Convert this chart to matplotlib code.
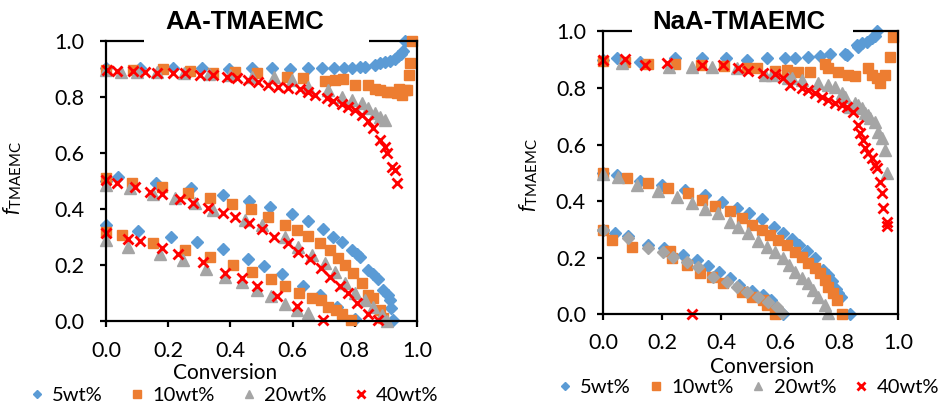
import matplotlib
matplotlib.use("Agg")
import matplotlib.pyplot as plt
from matplotlib.patches import Rectangle

plt.rcParams['font.family'] = ['Lato', 'DejaVu Sans']
plt.rcParams['mathtext.fontset'] = 'custom'
plt.rcParams['mathtext.rm'] = 'Lato'
plt.rcParams['mathtext.it'] = 'Lato:italic'

BLUE = '#5B9BD5'
ORANGE = '#ED7D31'
GRAY = '#A5A5A5'
RED = '#FF0000'

series_labels = ['5wt%', '10wt%', '20wt%', '40wt%']
ticks = [0.0, 0.2, 0.4, 0.6, 0.8, 1.0]

# ---- AA-TMAEMC (three starting feeds per series: 0.9, 0.5, 0.3)
aa_5wt_x = [0.0, 0.109, 0.215, 0.308, 0.397, 0.469, 0.533, 0.592, 0.648, 0.694, 0.732, 0.764, 0.791, 0.818,
            0.834, 0.866, 0.881, 0.897, 0.913, 0.929, 0.940, 0.950, 0.956, 0.962,
            0.0, 0.040, 0.161, 0.272, 0.377, 0.460, 0.527, 0.597, 0.648, 0.697, 0.731, 0.758, 0.790, 0.806,
            0.817, 0.843, 0.860, 0.874, 0.892, 0.908, 0.913, 0.916, 0.922,
            0.0, 0.104, 0.208, 0.292, 0.377, 0.456, 0.509, 0.565, 0.634, 0.688, 0.742, 0.80]
aa_5wt_y = [0.903, 0.903, 0.903, 0.903, 0.901, 0.903, 0.903, 0.901, 0.903, 0.905, 0.905, 0.905, 0.905, 0.908,
            0.908, 0.915, 0.920, 0.924, 0.930, 0.936, 0.945, 0.953, 0.963, 1.0,
            0.50, 0.513, 0.494, 0.474, 0.450, 0.430, 0.406, 0.381, 0.357, 0.329, 0.301, 0.283, 0.254, 0.238,
            0.227, 0.182, 0.168, 0.151, 0.111, 0.093, 0.075, 0.048, 0.004,
            0.343, 0.321, 0.299, 0.281, 0.256, 0.221, 0.196, 0.168, 0.125, 0.093, 0.051, 0.006]

aa_10wt_x = [0.0, 0.088, 0.184, 0.270, 0.345, 0.415, 0.484, 0.581, 0.634, 0.704, 0.736, 0.763, 0.801, 0.844,
             0.865, 0.881, 0.903, 0.913, 0.935, 0.941, 0.952, 0.961, 0.968, 0.973, 0.976, 0.984,
             0.0, 0.083, 0.179, 0.265, 0.334, 0.404, 0.466, 0.520, 0.576, 0.613, 0.651, 0.688, 0.720, 0.745,
             0.768, 0.795, 0.822, 0.843, 0.860, 0.881, 0.892,
             0.0, 0.050, 0.152, 0.254, 0.334, 0.409, 0.470, 0.531, 0.576, 0.621, 0.661, 0.690, 0.715, 0.740,
             0.758, 0.788]
aa_10wt_y = [0.896, 0.896, 0.899, 0.894, 0.887, 0.891, 0.885, 0.873, 0.867, 0.858, 0.861, 0.863, 0.843, 0.844,
             0.830, 0.825, 0.817, 0.819, 0.813, 0.828, 0.808, 0.825, 0.826, 0.879, 0.921, 1.0,
             0.510, 0.494, 0.477, 0.458, 0.438, 0.418, 0.399, 0.370, 0.343, 0.325, 0.304, 0.277, 0.254, 0.224,
             0.200, 0.170, 0.135, 0.093, 0.083, 0.039, 0.010,
             0.319, 0.307, 0.280, 0.254, 0.230, 0.200, 0.174, 0.149, 0.125, 0.101, 0.081, 0.075, 0.051, 0.040,
             0.025, 0.004]

aa_20wt_x = [0.0, 0.047, 0.10, 0.163, 0.25, 0.33, 0.40, 0.47, 0.539, 0.597, 0.651, 0.715, 0.758, 0.790,
             0.822, 0.843, 0.865, 0.881, 0.897,
             0.0, 0.077, 0.15, 0.222, 0.286, 0.345, 0.447, 0.501, 0.576, 0.618, 0.661, 0.704, 0.736, 0.768,
             0.801, 0.833, 0.860, 0.886, 0.903,
             0.0, 0.072, 0.174, 0.247, 0.322, 0.383, 0.437, 0.487, 0.530, 0.576, 0.614, 0.651]
aa_20wt_y = [0.895, 0.891, 0.890, 0.891, 0.886, 0.882, 0.877, 0.870, 0.871, 0.861, 0.837, 0.825, 0.801, 0.789,
             0.777, 0.760, 0.742, 0.727, 0.718,
             0.486, 0.474, 0.455, 0.438, 0.420, 0.396, 0.361, 0.343, 0.301, 0.265, 0.236, 0.206, 0.176, 0.135,
             0.099, 0.075, 0.051, 0.021, 0.0,
             0.289, 0.265, 0.241, 0.217, 0.184, 0.158, 0.140, 0.112, 0.088, 0.062, 0.041, 0.030]

aa_40wt_x = [0.002, 0.034, 0.088, 0.125, 0.163, 0.216, 0.254, 0.302, 0.345, 0.388, 0.420, 0.458, 0.490, 0.522,
             0.554, 0.586, 0.624, 0.651, 0.672, 0.710, 0.731, 0.758, 0.779, 0.801, 0.822, 0.843, 0.860, 0.881,
             0.897, 0.903, 0.919, 0.929, 0.935,
             0.0, 0.034, 0.093, 0.141, 0.179, 0.238, 0.281, 0.329, 0.377, 0.415, 0.460, 0.501, 0.540, 0.584,
             0.618, 0.656, 0.691, 0.720, 0.752, 0.777, 0.806, 0.841, 0.876,
             0.0, 0.072, 0.109, 0.179, 0.233, 0.313, 0.383, 0.436, 0.484, 0.549, 0.613, 0.699]
aa_40wt_y = [0.896, 0.894, 0.894, 0.891, 0.887, 0.887, 0.885, 0.879, 0.879, 0.873, 0.867, 0.861, 0.855, 0.843,
             0.834, 0.831, 0.827, 0.819, 0.807, 0.795, 0.787, 0.775, 0.763, 0.754, 0.736, 0.715, 0.688, 0.646,
             0.623, 0.599, 0.551, 0.539, 0.492,
             0.504, 0.494, 0.480, 0.462, 0.454, 0.435, 0.423, 0.402, 0.385, 0.370, 0.349, 0.327, 0.301, 0.277,
             0.248, 0.220, 0.188, 0.156, 0.125, 0.099, 0.063, 0.025, 0.004,
             0.313, 0.293, 0.287, 0.260, 0.239, 0.212, 0.170, 0.152, 0.126, 0.089, 0.055, 0.004]

# ---- NaA-TMAEMC
naa_5wt_x = [0.0, 0.045, 0.124, 0.243, 0.333, 0.415, 0.486, 0.554, 0.616, 0.650, 0.695, 0.735, 0.768, 0.819,
             0.825, 0.859, 0.864, 0.876, 0.893, 0.910, 0.921, 0.927,
             0.0, 0.045, 0.124, 0.198, 0.277, 0.345, 0.401, 0.452, 0.495, 0.537, 0.579, 0.610, 0.639, 0.663,
             0.689, 0.718, 0.746, 0.763, 0.774, 0.790, 0.797, 0.806, 0.836,
             0.0, 0.040, 0.085, 0.153, 0.204, 0.271, 0.317, 0.356, 0.392, 0.429, 0.461, 0.503, 0.540, 0.570, 0.610]
naa_5wt_y = [0.900, 0.905, 0.890, 0.907, 0.905, 0.907, 0.899, 0.905, 0.905, 0.905, 0.910, 0.914, 0.919, 0.919,
             0.916, 0.952, 0.946, 0.958, 0.963, 0.975, 0.985, 1.0,
             0.498, 0.492, 0.472, 0.457, 0.439, 0.422, 0.398, 0.375, 0.359, 0.336, 0.307, 0.286, 0.265, 0.245,
             0.225, 0.198, 0.157, 0.139, 0.119, 0.090, 0.074, 0.062, 0.0,
             0.298, 0.286, 0.275, 0.245, 0.234, 0.210, 0.192, 0.171, 0.151, 0.127, 0.104, 0.083, 0.067, 0.050, 0.0]

naa_10wt_x = [0.0, 0.074, 0.153, 0.243, 0.33, 0.41, 0.486, 0.520, 0.582, 0.622, 0.661, 0.701, 0.752, 0.763,
              0.797, 0.831, 0.853, 0.898, 0.910, 0.927, 0.938, 0.955, 0.972, 0.983,
              0.0, 0.079, 0.153, 0.220, 0.288, 0.333, 0.379, 0.429, 0.469, 0.503, 0.537, 0.565, 0.593, 0.622,
              0.650, 0.673, 0.695, 0.718, 0.735, 0.752, 0.763, 0.780, 0.791, 0.808,
              0.0, 0.028, 0.096, 0.226, 0.232, 0.283, 0.328, 0.367, 0.407, 0.469, 0.503, 0.542, 0.554, 0.582]
naa_10wt_y = [0.895, 0.890, 0.883, 0.883, 0.880, 0.876, 0.870, 0.869, 0.860, 0.863, 0.857, 0.857, 0.883, 0.869,
              0.857, 0.846, 0.843, 0.869, 0.846, 0.834, 0.816, 0.846, 0.910, 0.981,
              0.498, 0.481, 0.465, 0.447, 0.428, 0.404, 0.383, 0.366, 0.339, 0.316, 0.298, 0.280, 0.263, 0.245,
              0.221, 0.204, 0.180, 0.163, 0.145, 0.121, 0.098, 0.074, 0.051, 0.0,
              0.298, 0.263, 0.239, 0.224, 0.198, 0.174, 0.145, 0.131, 0.110, 0.080, 0.062, 0.051, 0.033, 0.0]

naa_20wt_x = [0.062, 0.223, 0.300, 0.367, 0.452, 0.548, 0.571, 0.627, 0.639, 0.673, 0.729, 0.763, 0.785, 0.808,
              0.819, 0.836, 0.853, 0.864, 0.876, 0.887, 0.898, 0.904, 0.921, 0.932, 0.944, 0.955, 0.961,
              0.0, 0.051, 0.113, 0.186, 0.249, 0.300, 0.345, 0.390, 0.429, 0.458, 0.492, 0.525, 0.554, 0.582,
              0.610, 0.630, 0.650, 0.673, 0.695, 0.712, 0.729, 0.752, 0.763]
naa_20wt_y = [0.887, 0.875, 0.875, 0.875, 0.869, 0.846, 0.846, 0.834, 0.834, 0.828, 0.816, 0.810, 0.804, 0.781,
              0.769, 0.734, 0.746, 0.740, 0.728, 0.710, 0.704, 0.693, 0.681, 0.645, 0.622, 0.581, 0.498,
              0.495, 0.486, 0.457, 0.437, 0.416, 0.394, 0.371, 0.357, 0.327, 0.307, 0.286, 0.260, 0.239, 0.221,
              0.198, 0.175, 0.151, 0.127, 0.110, 0.086, 0.062, 0.033, 0.004]

# 20wt% run starting at 0.3 is drawn with grey diamonds in the original
naa_20wt_low_x = [0.0, 0.085, 0.153, 0.203, 0.237, 0.283, 0.322, 0.373, 0.418, 0.452, 0.486, 0.525, 0.559,
                  0.588, 0.605]
naa_20wt_low_y = [0.298, 0.268, 0.233, 0.221, 0.204, 0.186, 0.168, 0.133, 0.115, 0.098, 0.080, 0.062, 0.045,
                  0.027, 0.004]

naa_40wt_x = [0.0, 0.074, 0.141, 0.215, 0.333, 0.407, 0.458, 0.492, 0.542, 0.582, 0.610, 0.633, 0.673, 0.695,
              0.718, 0.740, 0.763, 0.785, 0.808, 0.825, 0.847, 0.864, 0.870, 0.881, 0.887, 0.898, 0.910, 0.921,
              0.927, 0.938, 0.944, 0.949, 0.961, 0.961, 0.300]
naa_40wt_y = [0.899, 0.901, 0.881, 0.887, 0.881, 0.881, 0.869, 0.860, 0.852, 0.848, 0.834, 0.810, 0.801, 0.793,
              0.781, 0.769, 0.757, 0.746, 0.740, 0.734, 0.714, 0.669, 0.640, 0.616, 0.587, 0.569, 0.551, 0.528,
              0.516, 0.469, 0.428, 0.375, 0.327, 0.312, 0.0]

styles = [dict(marker='D', ms=6, color=BLUE, mec=BLUE),
          dict(marker='s', ms=7.5, color=ORANGE, mec=ORANGE),
          dict(marker='^', ms=8.5, color=GRAY, mec=GRAY),
          dict(marker='x', ms=7, color=RED, mew=2)]

fig = plt.figure(figsize=(9.43, 4.04), dpi=100)
ax1 = fig.add_axes([0.1124, 0.2054, 0.3298, 0.6931])
ax2 = fig.add_axes([0.6398, 0.2220, 0.3128, 0.7005])


def style_axis(ax, xpad, ypad):
    ax.set_xlim(0, 1)
    ax.set_ylim(0, 1)
    ax.set_xticks(ticks)
    ax.set_yticks(ticks)
    ax.set_xticklabels([f'{t:.1f}' for t in ticks])
    ax.set_yticklabels([f'{t:.1f}' for t in ticks])
    for s in ax.spines.values():
        s.set_linewidth(1.6)
        s.set_color('black')
    ax.tick_params(axis='both', direction='out', length=4.5, width=1.6, labelsize=15.5, colors='black')
    ax.tick_params(axis='x', pad=xpad)
    ax.tick_params(axis='y', pad=ypad)


aa_data = [(aa_5wt_x, aa_5wt_y), (aa_10wt_x, aa_10wt_y), (aa_20wt_x, aa_20wt_y), (aa_40wt_x, aa_40wt_y)]
naa_data = [(naa_5wt_x, naa_5wt_y), (naa_10wt_x, naa_10wt_y), (naa_20wt_x, naa_20wt_y), (naa_40wt_x, naa_40wt_y)]

for (xs, ys), lab, st in zip(aa_data, series_labels, styles):
    ax1.plot(xs, ys, ls='none', label=lab, clip_on=False, **st)

for i, ((xs, ys), lab, st) in enumerate(zip(naa_data, series_labels, styles)):
    ax2.plot(xs, ys, ls='none', label=lab, clip_on=False, **st)
    if i == 2:
        ax2.plot(naa_20wt_low_x, naa_20wt_low_y, ls='none', marker='D', ms=6, color=GRAY, clip_on=False)

style_axis(ax1, 10, 11)
style_axis(ax2, 9, 8)

ylab = r'$f_{\mathrm{TMAEMC}}$'
ax1.set_ylabel(ylab, fontsize=15.5)
ax1.yaxis.set_label_coords(-0.265, 0.51)
ax2.set_ylabel(ylab, fontsize=15.5)
ax2.yaxis.set_label_coords(-0.215, 0.492)

ax1.set_xlabel('Conversion', fontsize=15)
ax1.xaxis.set_label_coords(0.383, -0.186)
ax1.xaxis.label.set_va('center')
ax2.set_xlabel('Conversion', fontsize=15)
ax2.xaxis.set_label_coords(0.538, -0.187)
ax2.xaxis.label.set_va('center')

# white title boxes hiding part of the top border
for ax, x0, x1 in [(ax1, 0.122, 0.846), (ax2, 0.097, 0.846)]:
    ax.add_patch(Rectangle((x0, 0.96), x1 - x0, 0.08, transform=ax.transAxes,
                           facecolor='white', edgecolor='none', clip_on=False, zorder=5))

fig.text(0.26, 0.945, 'AA-TMAEMC', ha='center', va='center', fontsize=18.5,
         fontweight='bold', family='Liberation Sans')
fig.text(0.784, 0.945, 'NaA-TMAEMC', ha='center', va='center', fontsize=18.5,
         fontweight='bold', family='Liberation Sans')

for ax, cx, cy, cs in [(ax1, 0.248, 0.022, 1.3), (ax2, 0.793, 0.040, 0.85)]:
    ax.legend(loc='center', bbox_to_anchor=(cx, cy), bbox_transform=fig.transFigure, ncol=4,
              frameon=False, fontsize=14.5, handlelength=0.8, handletextpad=0.35, columnspacing=cs,
              markerscale=0.75, borderpad=0, borderaxespad=0)

fig.savefig('out.png', dpi=100)
